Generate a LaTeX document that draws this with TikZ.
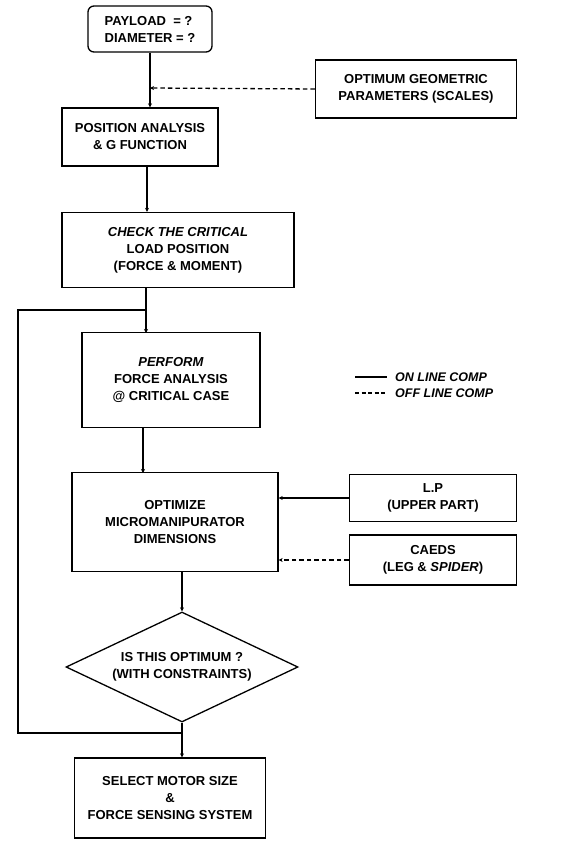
\documentclass[tikz,border=0pt]{standalone}
\usepackage{fontspec}
\setmainfont{Liberation Sans}
\usetikzlibrary{shapes.geometric,arrows.meta}
\begin{document}
\begin{tikzpicture}[x=1pt,y=-1pt,
  box/.style={draw,line width=1.3pt,align=center,inner sep=0pt,font=\bfseries\fontsize{13}{17}\selectfont},
  conn/.style={line width=1.3pt,-{Stealth[length=4pt,width=4pt]}},
  offconn/.style={conn,dash pattern=on 4.5pt off 3pt},
  plain/.style={line width=1.3pt},
  lbl/.style={anchor=west,inner sep=0pt,font=\bfseries\itshape\fontsize{12.5}{15}\selectfont}]
\useasboundingbox (0,0) rectangle (564,842);
\node[box,rounded corners=6pt,minimum width=124pt,minimum height=46pt,align=left] (payload) at (150,29) {PAYLOAD \ = ?\\DIAMETER = ?};
\node[box,minimum width=201pt,minimum height=58pt] (optimum) at (416,89) {OPTIMUM GEOMETRIC\\PARAMETERS (SCALES)};
\node[box,minimum width=156pt,minimum height=58pt] (position) at (140,137) {POSITION ANALYSIS\\\& G FUNCTION};
\node[box,minimum width=232pt,minimum height=75pt] (check) at (178,250) {\textit{CHECK THE CRITICAL}\\LOAD POSITION\\(FORCE \& MOMENT)};
\node[box,minimum width=178pt,minimum height=95pt] (perform) at (171,380) {\textit{PERFORM}\\FORCE ANALYSIS\\@ CRITICAL CASE};
\node[box,minimum width=206pt,minimum height=99pt] (optimize) at (175,522) {OPTIMIZE\\MICROMANIPURATOR\\DIMENSIONS};
\node[box,minimum width=167pt,minimum height=47pt] (lp) at (433,498) {L.P\\(UPPER PART)};
\node[box,minimum width=167pt,minimum height=50pt] (caeds) at (433,560) {CAEDS\\(LEG \& \textit{SPIDER})};
\node[box,shape=diamond,aspect=2.1,minimum width=232pt,minimum height=110pt] (diam) at (182,667) {IS THIS OPTIMUM ?\\(WITH CONSTRAINTS)};
\node[box,minimum width=191pt,minimum height=80pt] (select) at (170,798) {SELECT MOTOR SIZE\\\&\\FORCE SENSING SYSTEM};
% legend
\node[lbl] (on) at (395,377) {ON LINE COMP};
\node[lbl] (off) at (395,393) {OFF LINE COMP};
\coordinate (ona) at (355,377);
\coordinate (offa) at (355,393);
\draw[plain] (ona) -- ++(32,0);
\draw[plain,dash pattern=on 4pt off 2.5pt] (offa) -- ++(32,0);
% main flow
\draw[conn] (payload.south) -- (payload.south |- position.north);
\coordinate (dj) at (150,88);
\draw[offconn] (optimum.west) -- (dj);
\draw[conn] (147,166) coordinate (p1) -- (p1 |- check.north);
\coordinate (jt) at (146,310);
\draw[conn] (146,288) -- (146,333);
\draw[conn] (143,428) -- (143,473);
\draw[conn] (lp.west) -- (lp.west -| optimize.east);
\draw[offconn] (caeds.west) -- (caeds.west -| optimize.east);
\draw[conn] (optimize.south -| diam.north) -- (diam.north);
\coordinate (jb) at (182,733);
\draw[conn] (diam.south) -- (diam.south |- select.north);
\draw[plain] (jb) -- (18,733) -- (18,310) -- (jt);
\end{tikzpicture}
\end{document}
